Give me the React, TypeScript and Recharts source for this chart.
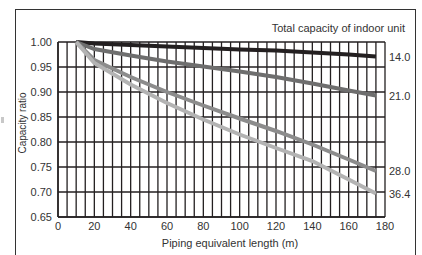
import React from "react";
import { LineChart, Line, XAxis, YAxis, CartesianGrid } from "recharts";

// piping equivalent length (m)
const lengths = [10, 20, 40, 60, 80, 100, 120, 140, 160, 175];

// capacity ratio per total indoor unit capacity
const cap140 = [1.0, 0.997, 0.994, 0.991, 0.988, 0.985, 0.983, 0.979, 0.975, 0.971];
const cap210 = [1.0, 0.986, 0.973, 0.961, 0.951, 0.941, 0.93, 0.917, 0.903, 0.893];
const cap280 = [1.0, 0.964, 0.93, 0.9, 0.873, 0.847, 0.822, 0.795, 0.765, 0.742];
const cap364 = [1.0, 0.958, 0.915, 0.878, 0.845, 0.815, 0.788, 0.762, 0.725, 0.697];

const seriesNames = ["14.0", "21.0", "28.0", "36.4"];
const seriesColors = ["#231f20", "#6e6e6e", "#8c8c8c", "#b3b3b3"];

const xGridTicks = Array.from({ length: 37 }, (_, i) => i * 5);
const yTicks = [0.65, 0.7, 0.75, 0.8, 0.85, 0.9, 0.95, 1.0];

const data = lengths.map((len, i) => ({
  len,
  s0: cap140[i],
  s1: cap210[i],
  s2: cap280[i],
  s3: cap364[i],
}));

const FONT = "'Liberation Sans', Arial, sans-serif";

function endLabel(name: string) {
  return (props: any) => {
    const { x, y, index } = props;
    if (index !== lengths.length - 1) return null;
    return (
      <text x={x + 13} y={y} dy={4} fontSize={11} fill="#333" fontFamily={FONT}>
        {name}
      </text>
    );
  };
}

export default function App() {
  const keys = ["s0", "s1", "s2", "s3"];
  return (
    <div
      style={{
        position: "absolute",
        left: 0,
        top: 0,
        width: 422,
        height: 255,
        overflow: "hidden",
        background: "#fff",
        fontFamily: FONT,
      }}
    >
      {/* outer frame, open at the bottom */}
      <div
        style={{
          position: "absolute",
          left: 15,
          top: 9,
          width: 399,
          height: 260,
          border: "1px solid #333",
        }}
      />
      <div style={{ position: "absolute", left: 1, top: 117, width: 3, height: 6, background: "#c8c8c8" }} />
      <div style={{ position: "absolute", left: 0, top: 0 }}>
        <LineChart width={422} height={255} data={data} margin={{ top: 42, right: 37, bottom: 18, left: 0 }}>
          <CartesianGrid stroke="#231f20" strokeWidth={1.3} fill="#fff" />
          <XAxis
            dataKey="len"
            type="number"
            domain={[0, 180]}
            ticks={xGridTicks}
            interval={0}
            height={20}
            tickFormatter={(v: number) => (v % 20 === 0 ? String(v) : "")}
            axisLine={{ stroke: "#231f20", strokeWidth: 1.5 }}
            tickLine={false}
            tickSize={0}
            tickMargin={5}
            tick={{ fontSize: 11, fill: "#333", fontFamily: FONT }}
          />
          <YAxis
            type="number"
            domain={[0.65, 1.0]}
            ticks={yTicks}
            interval={0}
            width={58}
            tickFormatter={(v: number) => v.toFixed(2)}
            axisLine={{ stroke: "#231f20", strokeWidth: 1.5 }}
            tickLine={false}
            tickSize={0}
            tickMargin={6}
            tick={{ fontSize: 11, fill: "#333", fontFamily: FONT }}
          />
          {keys.map((k, i) => (
            <Line
              key={k}
              dataKey={k}
              type="linear"
              stroke={seriesColors[i]}
              strokeWidth={4}
              dot={false}
              isAnimationActive={false}
              label={endLabel(seriesNames[i])}
            />
          ))}
          <text x={405} y={32} textAnchor="end" fontSize={11} fill="#333" fontFamily={FONT}>
            Total capacity of indoor unit
          </text>
          <text x={230} y={247} textAnchor="middle" fontSize={11} fill="#333" fontFamily={FONT}>
            Piping equivalent length (m)
          </text>
          <text
            x={0}
            y={0}
            transform="translate(26 123) rotate(-90)"
            textAnchor="middle"
            fontSize={10}
            fill="#333"
            fontFamily={FONT}
          >
            Capacity ratio
          </text>
        </LineChart>
      </div>
    </div>
  );
}
